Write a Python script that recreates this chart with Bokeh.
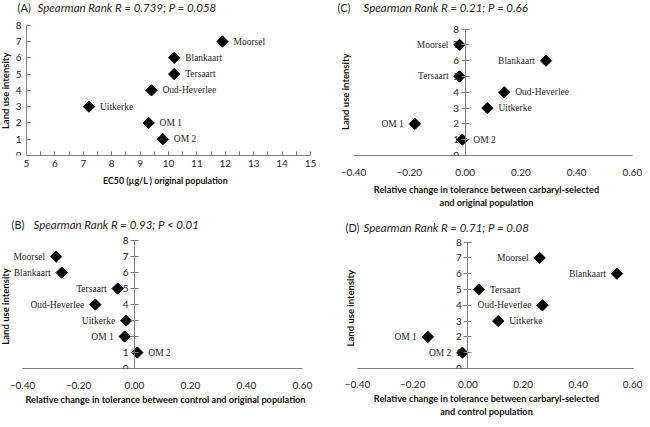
import math
from bokeh.plotting import figure
from bokeh.layouts import column, row
from bokeh.models import (Range1d, Label, LabelSet, FixedTicker,
                          ColumnDataSource, CustomJSTickFormatter)
from bokeh.embed import file_html
from bokeh.resources import INLINE

# ---------------- data ----------------
sites = ["Moorsel", "Blankaart", "Tersaart", "Oud-Heverlee", "Uitkerke", "OM 1", "OM 2"]
land_use = [7, 6, 5, 4, 3, 2, 1]
ec50_original = [11.9, 10.2, 10.2, 9.4, 7.2, 9.3, 9.8]
rel_control_vs_original = [-0.28, -0.26, -0.06, -0.14, -0.03, -0.035, 0.01]
rel_selected_vs_original = [-0.02, 0.29, -0.02, 0.14, 0.08, -0.18, -0.01]
rel_selected_vs_control = [0.26, 0.54, 0.04, 0.27, 0.11, -0.145, -0.02]

y_ticks = [0, 1, 2, 3, 4, 5, 6, 7, 8]
ec50_ticks = [5, 6, 7, 8, 9, 10, 11, 12, 13, 14, 15]
rel_ticks = [-0.4, -0.2, 0.0, 0.2, 0.4, 0.6]

titles = {
    "A": "Spearman Rank R = 0.739; P = 0.058",
    "B": "Spearman Rank R = 0.93; P < 0.01",
    "C": "Spearman Rank R = 0.21; P = 0.66",
    "D": "Spearman Rank R = 0.71; P = 0.08",
}
xlabels = {
    "A": "EC50 (\u00b5g/L ) original population",
    "B": "Relative change in tolerance between control and original population",
    "C": "Relative change in tolerance between carbaryl-selected\nand original population",
    "D": "Relative change in tolerance between carbaryl-selected\nand control population",
}
ylabel = "Land use intensity"

# label placement (style)
sides = {
    "A": ["r", "r", "r", "r", "r", "r", "r"],
    "B": ["l", "l", "l", "l", "l", "l", "r"],
    "C": ["l", "l", "l", "r", "r", "l", "r"],
    "D": ["l", "l", "r", "l", "r", "l", "l"],
}

FONT = "Lato"
AXIS_COLOR = "#7f7f7f"
TEXT_COLOR = "#262626"


def panel(key, xvals, xb, ybnd, cross, W, H, geo, txt, xlab_size):
    """geo: (px of x-bound start, px of x-bound end, px of y=8, bottom border)
       txt: (letter px, stat px, title py, ylabel px, ylabel py, tick standoff, label standoff)"""
    pxa, pxb, py8, bottom = geo
    lx, sx, ty, yl_x, yl_y, tstand, lstand = txt
    frame_b = H - bottom
    kx = (pxb - pxa) / (xb[1] - xb[0])
    ky = (frame_b - py8) / (ybnd[1] - ybnd[0])
    x0 = xb[0] - pxa / kx
    x1 = xb[0] + (W - pxa) / kx
    y0 = ybnd[0]
    y1 = ybnd[1] + py8 / ky

    def dx(px):
        return x0 + px / kx

    def dy(py):
        return y0 + (frame_b - py) / ky

    p = figure(width=W, height=H, output_backend="svg", toolbar_location=None,
               x_range=Range1d(x0, x1), y_range=Range1d(y0, y1),
               min_border_left=0, min_border_right=0,
               min_border_top=0, min_border_bottom=bottom, tools="")
    p.outline_line_color = None
    p.grid.visible = False
    p.background_fill_color = "white"

    # y axis (placed inside the frame at a data location)
    ya = p.yaxis[0]
    ya.fixed_location = 0 if cross else xb[0]
    ya.bounds = ybnd
    ya.ticker = FixedTicker(ticks=y_ticks)
    ya.minor_tick_line_color = None
    ya.axis_line_color = AXIS_COLOR
    ya.major_tick_line_color = AXIS_COLOR
    ya.major_label_text_font = FONT
    ya.major_label_text_font_size = "10px"
    ya.major_label_text_color = TEXT_COLOR
    if cross:
        ya.major_tick_in = 4
        ya.major_tick_out = 4
        ya.major_label_standoff = 2
    else:
        ya.major_tick_in = 4
        ya.major_tick_out = 0
        ya.major_label_standoff = 5

    # x axis
    xa = p.xaxis[0]
    xa.bounds = xb
    xa.axis_line_color = AXIS_COLOR
    xa.major_label_text_font = FONT
    xa.major_label_text_font_size = "10px"
    xa.major_label_text_color = TEXT_COLOR
    xa.axis_label = xlabels[key]
    xa.axis_label_text_font = FONT
    xa.axis_label_text_font_size = xlab_size
    xa.axis_label_text_font_style = "bold"
    xa.axis_label_text_color = "#111111"
    xa.major_label_standoff = tstand
    xa.axis_label_standoff = lstand
    if cross:
        xa.ticker = FixedTicker(ticks=rel_ticks)
        xa.formatter = CustomJSTickFormatter(
            code="return (tick < -1e-9 ? '\\u2212' : '') + Math.abs(tick).toFixed(2);")
        xa.major_tick_line_color = None
        xa.minor_tick_line_color = None
    else:
        xa.ticker = FixedTicker(ticks=ec50_ticks, minor_ticks=[t + 0.5 for t in ec50_ticks[:-1]])
        xa.major_tick_in = 4
        xa.major_tick_out = 0
        xa.minor_tick_in = 4
        xa.minor_tick_out = 0
        xa.major_tick_line_color = AXIS_COLOR
        xa.minor_tick_line_color = AXIS_COLOR

    # y label
    p.add_layout(Label(x=dx(yl_x), y=dy(yl_y), text=ylabel, angle=math.pi / 2,
                       text_font=FONT, text_font_size="9.5px", text_font_style="bold",
                       text_color="#111111", text_align="center", text_baseline="middle"))

    # points
    src = ColumnDataSource(dict(x=xvals, y=land_use, name=sites))
    p.scatter("x", "y", source=src, marker="square", angle=math.pi / 4, size=8,
              fill_color="black", line_color="black")

    s = sides[key]
    li = [i for i in range(len(sites)) if s[i] == "l"]
    ri = [i for i in range(len(sites)) if s[i] == "r"]
    for idx, align, off in ((li, "right", -11), (ri, "left", 11)):
        if not idx:
            continue
        ls = ColumnDataSource(dict(x=[xvals[i] for i in idx],
                                   y=[land_use[i] for i in idx],
                                   t=[sites[i] for i in idx]))
        p.add_layout(LabelSet(x="x", y="y", text="t", source=ls, x_offset=off,
                              text_align=align, text_baseline="middle",
                              text_font=FONT, text_font_size="9.5px",
                              text_color=TEXT_COLOR))

    # panel letter and statistic
    p.add_layout(Label(x=dx(lx), y=dy(ty), text="(" + key + ")",
                       text_font=FONT, text_font_size="11px", text_color=TEXT_COLOR,
                       text_baseline="middle", text_align="left"))
    p.add_layout(Label(x=dx(sx), y=dy(ty), text=titles[key],
                       text_font=FONT, text_font_size="11.5px", text_font_style="italic",
                       text_color=TEXT_COLOR, text_baseline="middle", text_align="left"))
    return p


pA = panel("A", ec50_original, (5, 15), (0, 8), False, 330, 210,
           (26, 310, 26, 47), (17, 37, 7, 5, 95, 4, 5), "8.8px")
pC = panel("C", rel_selected_vs_original, (-0.4, 0.6), (0, 8), True, 312, 210,
           (23, 302, 30, 47), (7, 33, 7, 15, 96, 7, 5), "9.2px")
pB = panel("B", rel_control_vs_original, (-0.4, 0.6), (0, 8), True, 330, 209,
           (22, 302, 33, 36), (11, 33, 15, 5, 105, 7, 2), "9.2px")
pD = panel("D", rel_selected_vs_control, (-0.4, 0.6), (0, 8), True, 312, 209,
           (27, 303, 33, 44), (15, 33, 18, 20, 102, 6, 2), "9.2px")

layout = column(row(pA, pC), row(pB, pD))
open("out.html", "w").write(file_html(layout, INLINE))
